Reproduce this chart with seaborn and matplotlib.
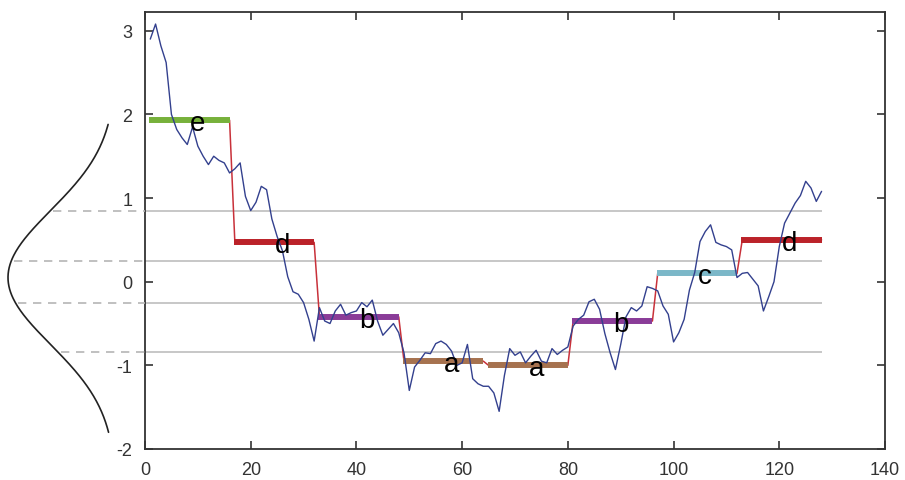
import numpy as np
import pandas as pd
import matplotlib
matplotlib.use("Agg")
import matplotlib.pyplot as plt
import seaborn as sns

# ---- data ----
series = [
    2.90, 3.08, 2.82, 2.62, 2.00, 1.82, 1.72, 1.64, 1.85, 1.62, 1.50, 1.40, 1.50, 1.45, 1.42, 1.30,
    1.35, 1.42, 1.02, 0.85, 0.95, 1.14, 1.10, 0.75, 0.54, 0.37, 0.06, -0.12, -0.15, -0.25, -0.45, -0.71,
    -0.31, -0.47, -0.50, -0.35, -0.27, -0.40, -0.37, -0.35, -0.25, -0.30, -0.22, -0.47, -0.64, -0.57, -0.50, -0.61,
    -0.85, -1.30, -1.02, -0.94, -0.85, -0.86, -0.74, -0.71, -0.75, -0.83, -1.00, -0.97, -0.75, -1.16, -1.22, -1.25,
    -1.25, -1.33, -1.55, -1.12, -0.80, -0.88, -0.84, -0.97, -0.89, -0.82, -0.95, -0.97, -0.80, -0.87, -0.82, -0.78,
    -0.53, -0.45, -0.40, -0.24, -0.21, -0.33, -0.62, -0.85, -1.05, -0.75, -0.42, -0.31, -0.35, -0.29, -0.06, -0.08,
    -0.11, -0.29, -0.39, -0.72, -0.61, -0.45, -0.10, 0.11, 0.48, 0.60, 0.68, 0.47, 0.44, 0.42, 0.38, 0.05,
    0.10, 0.11, 0.03, -0.05, -0.35, -0.18, 0.00, 0.42, 0.70, 0.82, 0.94, 1.03, 1.20, 1.12, 0.96, 1.08,
]
paa_values = [1.93, 0.47, -0.42, -0.95, -1.00, -0.47, 0.10, 0.50]
symbols = ["e", "d", "b", "a", "a", "b", "c", "d"]
segment_len = 16
breakpoints = [-0.84, -0.25, 0.25, 0.84]
x_ticks = [0, 20, 40, 60, 80, 100, 120, 140]
y_ticks = [-2, -1, 0, 1, 2, 3]

symbol_colors = {"a": "#a6724f", "b": "#8a3c98", "c": "#7bb7c8",
                 "d": "#bb2229", "e": "#77b13b"}

sns.set_theme(style="ticks")
plt.rcParams["font.family"] = ["Liberation Sans", "DejaVu Sans"]

W, H = 905, 481
fig = plt.figure(figsize=(W / 100, H / 100), dpi=100)
L, R, B, T = 145 / W, 885 / W, 31 / H, 468.5 / H
ax = fig.add_axes([L, B, R - L, T - B])
gx = fig.add_axes([0, B, L, T - B])

ylo, yhi = -2, 3.23

# ---- main axes ----
t = np.arange(1, len(series) + 1)
df = pd.DataFrame({"t": t, "value": series})
paa_df = pd.DataFrame({"t": t, "paa": np.repeat(paa_values, segment_len)})

ax.hlines(breakpoints, 0, len(series), colors="#bdbdbd", lw=1.2, zorder=1)
sns.lineplot(data=paa_df, x="t", y="paa", ax=ax, color="#c8313a", lw=1.1, zorder=2)

starts = np.arange(len(paa_values)) * segment_len + 1
ends = starts + segment_len - 1
for s, e, v, sym in zip(starts, ends, paa_values, symbols):
    ax.hlines(v, s - 0.2, e, colors=symbol_colors[sym], lw=4.3, zorder=3)
    ax.text(s + 9, v - 0.12, sym, ha="center", va="baseline", fontsize=20,
            color="black", zorder=6)

sns.lineplot(data=df, x="t", y="value", ax=ax, color="#33408e", lw=1.0, zorder=4)

ax.set_xlim(0, 140)
ax.set_ylim(ylo, yhi)
ax.set_xticks(x_ticks)
ax.set_yticks(y_ticks)
ax.set_xticklabels([str(v) for v in x_ticks])
ax.set_yticklabels([str(v) for v in y_ticks])
ax.set_xlabel("")
ax.set_ylabel("")
ax.tick_params(direction="in", top=True, right=True, length=6, width=1.2,
               color="#333333", labelsize=13, labelcolor="#333333", pad=9)
for sp in ax.spines.values():
    sp.set_color("#333333")
    sp.set_linewidth(1.3)

# ---- Gaussian on the left ----
mu, sd = 0.05, 0.8
x0, amp = 116.0, 108.0
yy = np.linspace(-1.80, 1.88, 300)
curve_x = x0 - amp * np.exp(-(yy - mu) ** 2 / (2 * sd ** 2))
gx.plot(curve_x, yy, color="#222222", lw=1.2)
for bp in breakpoints:
    cx = x0 - amp * np.exp(-(bp - mu) ** 2 / (2 * sd ** 2))
    gx.plot([cx + 3, 145], [bp, bp], color="#b5b5b5", lw=1.2, ls=(0, (5, 4)))
gx.set_xlim(0, 145)
gx.set_ylim(ylo, yhi)
gx.axis("off")

fig.savefig("out.png", dpi=100)
